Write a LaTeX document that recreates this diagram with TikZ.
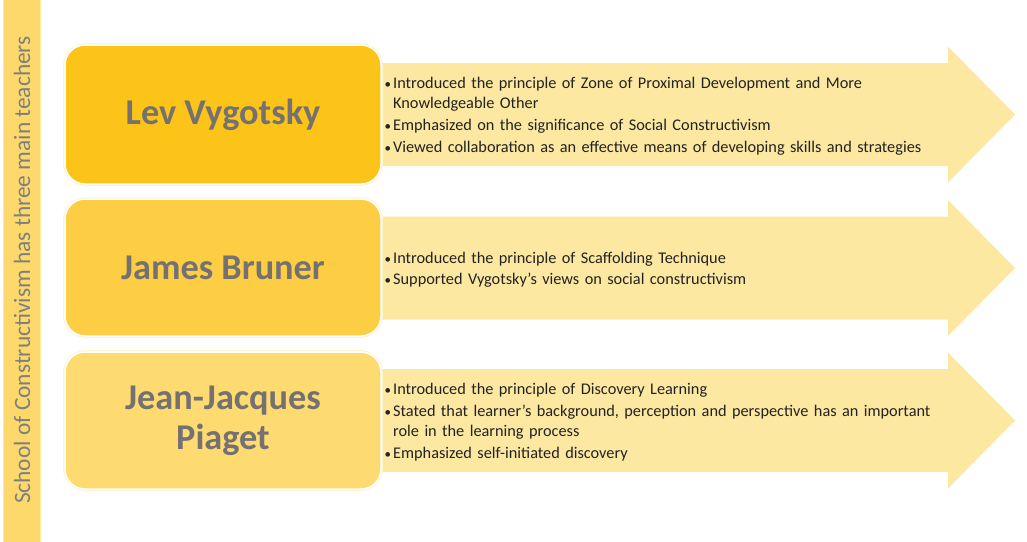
\documentclass[tikz,border=0pt]{standalone}
\usepackage{fontspec}
\setmainfont{Carlito}
\definecolor{barfill}{HTML}{FDD96C}
\definecolor{barline}{HTML}{FEE9A8}
\definecolor{boxA}{HTML}{FCC419}
\definecolor{boxB}{HTML}{FDCE44}
\definecolor{boxC}{HTML}{FDDB71}
\definecolor{arrowfill}{HTML}{FDE8A1}
\definecolor{namegray}{HTML}{767171}
\definecolor{titlegray}{HTML}{7F7F7F}
\definecolor{bodytext}{HTML}{222222}
\definecolor{halo}{HTML}{FEF3D2}
\newcommand{\bpt}[1]{\par\hangindent=9pt\hangafter=1\noindent\makebox[9pt][l]{\hspace{0.5pt}{\fontsize{13}{13}\selectfont\textbullet}}#1}
\newcommand{\itemgap}{\vspace{2.5pt}}
\tikzset{
  namebox/.style={rounded corners=20pt, minimum width=316pt, inner sep=0pt,
    draw=white, line width=1.5pt, align=center, text=namegray,
    font=\fontsize{36.3}{40}\selectfont\bfseries},
  points/.style={anchor=west, inner sep=0pt, text width=620pt, align=left,
    text=bodytext, font=\fontsize{16.3}{19.5}\selectfont},
  arrowbody/.style={fill=arrowfill}
}
\begin{document}
\begin{tikzpicture}[x=1pt,y=-1pt]
\useasboundingbox (0,0) rectangle (1027,541);
\fill[white] (0,0) rectangle (1027,541);

% side bar with the heading
\fill[barfill, draw=barline, line width=1pt] (3,-1) rectangle (40,542);
\node[rotate=90, text=titlegray, font=\fontsize{23.4}{26}\selectfont, inner sep=0pt] (title) at (22,270) {School of Constructivism has three main teachers};

% arrows behind the name boxes
\foreach \ya in {114.5, 268, 420.5} {
  \fill[arrowbody] (370,\ya-51.5) -- (948,\ya-51.5) -- (948,\ya-68) -- (1015,\ya)
    -- (948,\ya+68) -- (948,\ya+51.5) -- (370,\ya+51.5) -- cycle;
}

% soft halo round the name boxes
\foreach \yb/\h in {114.5/139, 267.5/137, 420.5/137} {
  \draw[halo, line width=4pt, rounded corners=21pt] (65,\yb-\h/2) rectangle (381,\yb+\h/2);
}

% name boxes
\node[namebox, fill=boxA, minimum height=139pt] (lev) at (223,114.5) {Lev Vygotsky};
\node[namebox, fill=boxB, minimum height=137pt] (bruner) at (223,267.5) {James Bruner};
\node[namebox, fill=boxC, minimum height=137pt] (piaget) at (223,420.5) {Jean-Jacques\\Piaget};

% contributions
\node[points] (levpts) at (384,112) {%
\bpt{Introduced the principle of Zone of Proximal Development and More\newline Knowledgeable Other}\itemgap
\bpt{Emphasized on the significance of Social Constructivism}\itemgap
\bpt{Viewed collaboration as an effective means of developing skills and strategies}};
\node[points] (brunerpts) at (384,265.5) {%
\bpt{Introduced the principle of Scaffolding Technique}\vspace{1.5pt}
\bpt{Supported Vygotsky’s views on social constructivism}};
\node[points] (piagetpts) at (384,418) {%
\bpt{Introduced the principle of Discovery Learning}\itemgap
\bpt{Stated that learner’s background, perception and perspective has an important\newline role in the learning process}\itemgap
\bpt{Emphasized self-initiated discovery}};
\end{tikzpicture}
\end{document}
